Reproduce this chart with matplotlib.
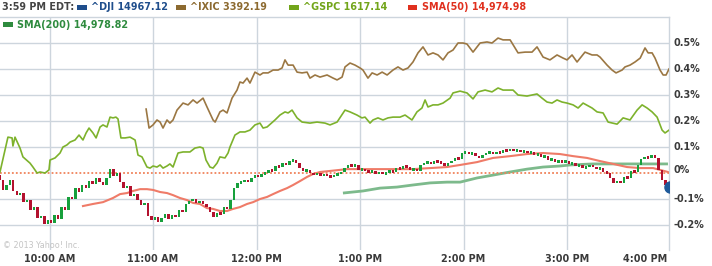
import matplotlib
matplotlib.use("Agg")
import matplotlib.pyplot as plt
from matplotlib.patches import Rectangle
import numpy as np

# ---------------- data (percent change from previous close) ----------------
# DJI 2-minute candles (close values); first candle opens slightly below 0
dji_first_open = -0.008
dji_close = [
    -0.027, -0.065, -0.046, -0.027, -0.069, -0.085, -0.077, -0.112, -0.104, -0.142,
    -0.131, -0.173, -0.165, -0.196, -0.181, -0.192, -0.162, -0.177, -0.131, -0.142,
    -0.092, -0.100, -0.058, -0.073, -0.046, -0.058, -0.031, -0.042, -0.019, -0.035,
    -0.046, -0.019, 0.015, -0.012, 0.000, -0.035, -0.058, -0.050, -0.088, -0.081,
    -0.104, -0.123, -0.115, -0.165, -0.181, -0.169, -0.188, -0.173, -0.158, -0.177,
    -0.162, -0.169, -0.142, -0.150, -0.119, -0.108, -0.100, -0.115, -0.108, -0.119,
    -0.131, -0.150, -0.169, -0.154, -0.158, -0.131, -0.138, -0.104, -0.058, -0.038,
    -0.035, -0.027, -0.035, -0.019, -0.008, -0.015, -0.004, 0.000, 0.012, 0.008,
    0.027, 0.023, 0.038, 0.031, 0.046, 0.050, 0.038, 0.019, 0.008, 0.012,
    0.000, -0.008, 0.000, -0.012, -0.004, -0.012, -0.015, -0.008, -0.004, 0.004,
    0.019, 0.031, 0.027, 0.031, 0.012, 0.015, 0.008, 0.004, 0.008, -0.004,
    0.004, -0.004, 0.002, 0.008, 0.004, 0.019, 0.015, 0.027, 0.023, 0.012,
    0.015, 0.008, 0.031, 0.038, 0.042, 0.035, 0.046, 0.042, 0.038, 0.027,
    0.038, 0.046, 0.058, 0.054, 0.077, 0.081, 0.073, 0.077, 0.065, 0.058,
    0.069, 0.077, 0.081, 0.073, 0.081, 0.077, 0.088, 0.085, 0.092, 0.085,
    0.088, 0.081, 0.085, 0.077, 0.081, 0.069, 0.073, 0.062, 0.065, 0.050,
    0.054, 0.042, 0.046, 0.042, 0.046, 0.035, 0.038, 0.027, 0.031, 0.019,
    0.023, 0.031, 0.023, 0.015, 0.019, 0.004, 0.000, -0.019, -0.038, -0.031,
    -0.038, -0.015, -0.019, 0.008, 0.004, 0.031, 0.054, 0.062, 0.058, 0.069,
    0.058, 0.012, -0.027, -0.046, -0.054,
]
dji_last = -0.053

# minutes after 9:30
ixic_t = [86.0, 87.7, 90.0, 92.3, 94.1, 95.8, 98.1, 99.8, 101.6, 103.9, 107.4, 110.3, 113.2,
          115.5, 119.0, 121.3, 124.8, 126.0, 128.8, 130.6, 132.9, 135.8, 138.7, 140.4, 142.2,
          144.5, 146.2, 149.1, 152.0, 153.8, 156.7, 159.6, 162.5, 164.8, 166.5, 168.3, 171.2,
          173.5, 176.4, 179.3, 181.0, 183.9, 186.8, 190.9, 194.4, 196.7, 199.6, 201.3, 204.2,
          207.1, 210.0, 211.7, 214.6, 217.0, 219.9, 222.8, 225.7, 229.1, 232.0, 234.9, 237.8,
          240.7, 243.6, 246.5, 249.4, 252.3, 255.2, 258.1, 261.0, 263.9, 266.8, 269.7, 272.0,
          275.5, 279.6, 283.6, 286.5, 290.0, 292.9, 297.0, 301.6, 305.7, 309.7, 312.6, 316.1,
          320.1, 324.2, 327.7, 330.0, 332.9, 335.8, 340.4, 344.5, 347.4, 349.1, 353.2, 356.1,
          358.4, 361.9, 363.6, 366.5, 369.4, 372.4, 375.2, 377.0, 379.3, 381.0, 383.9, 385.7,
          387.4, 389.1]
ixic_v = [0.246, 0.173, 0.185, 0.204, 0.196, 0.173, 0.204, 0.192, 0.204, 0.242, 0.269, 0.262, 0.281,
          0.269, 0.288, 0.254, 0.204, 0.196, 0.235, 0.242, 0.231, 0.288, 0.319, 0.350, 0.346,
          0.365, 0.346, 0.388, 0.377, 0.385, 0.385, 0.396, 0.396, 0.404, 0.435, 0.415, 0.415,
          0.388, 0.385, 0.388, 0.365, 0.377, 0.369, 0.377, 0.365, 0.358, 0.369, 0.408, 0.423,
          0.415, 0.404, 0.396, 0.365, 0.385, 0.377, 0.388, 0.377, 0.396, 0.408, 0.396, 0.404,
          0.427, 0.462, 0.485, 0.454, 0.462, 0.454, 0.435, 0.462, 0.473, 0.500, 0.500, 0.496,
          0.465, 0.500, 0.504, 0.500, 0.519, 0.512, 0.512, 0.462, 0.465, 0.465, 0.485, 0.446,
          0.435, 0.454, 0.442, 0.435, 0.454, 0.427, 0.465, 0.454, 0.454, 0.446, 0.415, 0.396,
          0.385, 0.396, 0.408, 0.415, 0.427, 0.442, 0.481, 0.462, 0.462, 0.442, 0.396, 0.377,
          0.377, 0.400]

gspc_t = [1.3, 5.9, 8.3, 8.8, 10.0, 12.9, 14.6, 18.7, 20.4, 22.8, 24.5, 27.4, 29.7, 30.3, 33.2,
          36.1, 37.8, 40.1, 41.9, 44.8, 47.1, 49.4, 51.2, 52.9, 55.2, 57.0, 59.3, 61.0, 63.3,
          65.1, 66.8, 68.5, 69.7, 71.4, 73.8, 76.7, 79.6, 81.3, 83.6, 86.5, 88.3, 90.0, 92.3,
          94.1, 95.8, 98.1, 99.8, 101.6, 104.5, 107.4, 111.4, 114.3, 117.2, 119.0, 120.7, 123.0,
          124.8, 127.1, 128.8, 131.7, 133.5, 134.6, 137.5, 140.4, 143.3, 146.2, 149.1, 152.0,
          153.8, 156.1, 160.7, 163.6, 166.5, 168.3, 170.6, 173.5, 176.4, 181.0, 185.1, 189.7,
          192.6, 196.7, 201.3, 204.2, 208.2, 211.1, 212.9, 215.8, 217.5, 220.4, 223.3, 226.2,
          229.1, 233.2, 236.1, 240.1, 243.0, 245.9, 247.7, 249.4, 252.3, 255.2, 258.1, 262.2,
          263.9, 268.0, 272.0, 275.5, 278.4, 282.5, 286.5, 290.0, 292.9, 298.7, 301.6, 306.8,
          312.6, 315.5, 318.4, 321.3, 324.2, 327.1, 330.0, 333.5, 336.4, 339.3, 344.5, 347.4,
          350.9, 353.8, 359.0, 362.5, 366.5, 370.6, 373.5, 376.4, 379.3, 382.2, 385.1, 386.8,
          389.1]
gspc_v = [0.004, 0.138, 0.135, 0.104, 0.138, 0.096, 0.062, 0.038, 0.023, 0.000, 0.004, 0.000, 0.012,
          0.050, 0.058, 0.077, 0.100, 0.108, 0.119, 0.127, 0.146, 0.127, 0.154, 0.173, 0.154,
          0.135, 0.177, 0.185, 0.177, 0.215, 0.212, 0.215, 0.208, 0.135, 0.135, 0.138, 0.127,
          0.069, 0.062, 0.023, 0.019, 0.027, 0.023, 0.031, 0.019, 0.027, 0.035, 0.023, 0.077,
          0.081, 0.081, 0.096, 0.100, 0.096, 0.050, 0.023, 0.019, 0.038, 0.062, 0.058, 0.077,
          0.100, 0.146, 0.158, 0.158, 0.165, 0.185, 0.192, 0.173, 0.177, 0.204, 0.223, 0.235,
          0.231, 0.242, 0.212, 0.196, 0.192, 0.196, 0.192, 0.185, 0.196, 0.242, 0.235, 0.223,
          0.212, 0.215, 0.192, 0.204, 0.212, 0.204, 0.212, 0.215, 0.215, 0.223, 0.204, 0.235,
          0.250, 0.281, 0.254, 0.262, 0.262, 0.269, 0.288, 0.308, 0.315, 0.308, 0.285, 0.312,
          0.319, 0.312, 0.327, 0.319, 0.319, 0.300, 0.296, 0.304, 0.288, 0.273, 0.269, 0.281,
          0.273, 0.269, 0.262, 0.250, 0.269, 0.250, 0.235, 0.231, 0.196, 0.188, 0.212, 0.204,
          0.242, 0.262, 0.250, 0.235, 0.215, 0.165, 0.154, 0.165]

sma50_t = [49.4, 55.2, 61.0, 66.8, 70.9, 74.9, 78.4, 82.5, 86.5, 90.0, 94.1, 98.1, 101.6, 105.6,
           109.7, 113.2, 117.2, 121.3, 124.8, 128.8, 132.9, 136.4, 140.4, 144.5, 148.0, 152.0,
           156.1, 159.6, 163.6, 167.7, 171.2, 175.2, 179.3, 182.7, 186.8, 192.6, 202.5, 211.7,
           221.6, 231.4, 240.7, 250.6, 260.4, 268.0, 277.8, 287.1, 297.0, 306.8, 316.1, 325.9,
           333.5, 341.6, 349.1, 356.7, 364.8, 372.4, 379.9, 383.9, 388.5]
sma50_v = [-0.127, -0.119, -0.112, -0.096, -0.081, -0.077, -0.069, -0.062, -0.062, -0.065, -0.073,
           -0.077, -0.085, -0.096, -0.104, -0.115, -0.119, -0.135, -0.138, -0.146, -0.146, -0.138,
           -0.131, -0.119, -0.112, -0.100, -0.092, -0.081, -0.069, -0.058, -0.046, -0.031, -0.015,
           -0.004, 0.004, 0.008, 0.015, 0.015, 0.015, 0.015, 0.015, 0.019, 0.023, 0.031, 0.042,
           0.058, 0.065, 0.073, 0.077, 0.073, 0.065, 0.058, 0.046, 0.035, 0.023, 0.019, 0.019,
           0.012, 0.004]

sma200_t = [200.1, 211.7, 221.6, 231.4, 240.7, 250.6, 260.4, 268.0, 277.8, 287.1, 297.0, 306.8,
            316.1, 325.9, 331.7, 345.1, 364.8, 388.5]
sma200_v = [-0.077, -0.069, -0.058, -0.054, -0.046, -0.038, -0.035, -0.035, -0.019, -0.008, 0.004,
            0.015, 0.023, 0.027, 0.031, 0.035, 0.035, 0.035]

x_tick_minutes = [30, 90, 150, 210, 270, 330, 390]
x_tick_labels = ["10:00 AM", "11:00 AM", "12:00 PM", "1:00 PM", "2:00 PM", "3:00 PM", "4:00 PM"]
y_ticks = [0.5, 0.4, 0.3, 0.2, 0.1, 0.0, -0.1, -0.2]
y_tick_labels = ["0.5%", "0.4%", "0.3%", "0.2%", "0.1%", "0%", "-0.1%", "-0.2%"]

legend_time = "3:59 PM EDT:"
legend_items = [
    ("^DJI 14967.12", "#1f4e8c"),
    ("^IXIC 3392.19", "#8c6a30"),
    ("^GSPC 1617.14", "#72a51a"),
    ("SMA(50) 14,974.98", "#e0301e"),
    ("SMA(200) 14,978.82", "#2e8b3e"),
]

# ---------------- figure ----------------
W, H = 712, 266
fig = plt.figure(figsize=(W / 100, H / 100), dpi=100, facecolor="white")
ax = fig.add_axes([0, (H - 250) / H, 669 / W, 233 / H])
ax.set_xlim(1.3, 389.1)
ax.set_ylim(-0.296, 0.6)
ax.set_facecolor("white")

grid_c = "#cdd5dd"
for t in x_tick_minutes[:-1]:
    ax.axvline(t, color=grid_c, lw=1.0, zorder=0)
for v in y_ticks:
    if v != 0:
        ax.axhline(v, color=grid_c, lw=1.0, zorder=0)

for s in ["left", "bottom"]:
    ax.spines[s].set_visible(False)
for s in ["top", "right"]:
    ax.spines[s].set_color(grid_c)
    ax.spines[s].set_linewidth(1.0)
ax.set_xticks([])
ax.set_yticks([])

# moving averages
ax.plot(sma200_t, sma200_v, color="#7dba8c", lw=2.0, zorder=2, solid_capstyle="butt")
ax.plot(sma50_t, sma50_v, color="#ef7b68", lw=1.5, zorder=2)

# previous close dotted line
ax.axhline(0, color="#f0825a", lw=1.3, ls=(0, (1, 1.2)), zorder=3)

# DJI candles
n = len(dji_close)
times = 1 + 2 * np.arange(n)
opens = [dji_first_open] + dji_close[:-1]
min_h = 0.010
for t, o, c in zip(times, opens, dji_close):
    up = c >= o
    col = "#17a03c" if up else "#b3122e"
    lo, hi = min(o, c), max(o, c)
    if hi - lo < min_h:
        mid = (hi + lo) / 2
        lo, hi = mid - min_h / 2, mid + min_h / 2
    ax.add_patch(Rectangle((t - 0.7, lo), 1.4, hi - lo, facecolor=col, edgecolor="none", zorder=4))

ax.plot([times[-1] + 0.5], [dji_last], "o", color="#1f5a9a", ms=8, zorder=6, clip_on=True)

# index lines
ax.plot(ixic_t, ixic_v, color="#9b7743", lw=1.2, zorder=5)
ax.plot(gspc_t, gspc_v, color="#7db22c", lw=1.2, zorder=5)

# axis labels
lab_c = "#3a3a3a"
for v, lab in zip(y_ticks, y_tick_labels):
    dy = 3 if v == 0 else 0
    ax.annotate(lab, xy=(1, v), xycoords=("axes fraction", "data"), xytext=(4, dy),
                textcoords="offset pixels", ha="left", va="center", fontsize=6.9,
                fontweight="bold", color=lab_c, annotation_clip=False)
for t, lab in zip(x_tick_minutes, x_tick_labels):
    if t == 390:
        ax.annotate(lab, xy=(t, 0), xycoords=("data", "axes fraction"), xytext=(-3, -9),
                    textcoords="offset pixels", ha="right", va="center", fontsize=6.9,
                    fontweight="bold", color=lab_c, annotation_clip=False)
    else:
        ax.annotate(lab, xy=(t, 0), xycoords=("data", "axes fraction"), xytext=(0, -9),
                    textcoords="offset pixels", ha="center", va="center", fontsize=6.9,
                    fontweight="bold", color=lab_c, annotation_clip=False)

# copyright
fig.text(3 / W, 1 - 245 / H, "\u00a9 2013 Yahoo! Inc.", fontsize=5.8, color="#c4c4c4",
         ha="left", va="center")

# legend
def fx(x):
    return x / W

def fy(y):
    return 1 - y / H

fig.text(fx(2), fy(7.5), legend_time, fontsize=6.9, fontweight="bold", color="#444444",
         ha="left", va="center")
legend_pos = [(77, 7.5), (176, 7.5), (289, 7.5), (408, 7.5), (3, 24.5)]
for (lab, col), (px, py) in zip(legend_items, legend_pos):
    fig.patches.append(Rectangle((fx(px), fy(py + 2.5)), 9.5 / W, 5 / H, facecolor=col,
                                 edgecolor="none", transform=fig.transFigure, figure=fig))
    fig.text(fx(px + 14), fy(py), lab, fontsize=6.9, fontweight="bold", color=col,
             ha="left", va="center")

fig.savefig("out.png", dpi=100, facecolor="white")
